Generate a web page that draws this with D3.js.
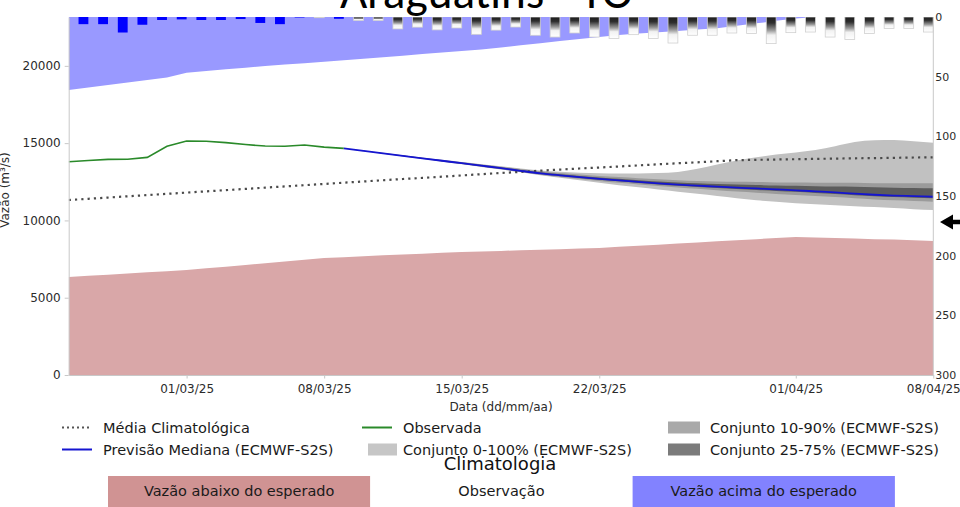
<!DOCTYPE html>
<html><head><meta charset="utf-8">
<script src="https://cdn.jsdelivr.net/npm/d3@7"></script>
<style>
body{margin:0;background:#fff}
svg{display:block}
text{font-family:"DejaVu Sans",sans-serif}
</style>
</head><body>
<svg id="c" width="960" height="507"></svg>
<script>
// ---------------- DATA ----------------
const titleText = "Araguatins - TO";
const startDate = "2025-02-23";
const endDate = "2025-04-08";
const xTickLabels = ["01/03/25", "08/03/25", "15/03/25", "22/03/25", "01/04/25", "08/04/25"];
const yTicks = [0, 5000, 10000, 15000, 20000];
const precipTicks = [0, 50, 100, 150, 200, 250, 300];

// daily climatology (23/02 .. 08/04)
const climLow = [6340,6415,6490,6565,6640,6715,6790,6900,7010,7120,7235,7345,7460,7570,7625,7680,7740,7795,7850,7905,7960,7995,8030,8070,8105,8140,8180,8215,8290,8360,8430,8500,8575,8645,8715,8790,8860,8930,8900,8870,8830,8790,8760,8720,8670];
const climHigh = [18435,18600,18760,18920,19080,19250,19560,19670,19780,19880,19990,20080,20170,20270,20360,20460,20560,20660,20760,20860,20960,21060,21190,21330,21460,21600,21730,21870,22000,22090,22180,22260,22350,22440,22600,22750,22910,23070,23160,23250,23330,23400,23460,23510,23550];
const climMean = [11320,11400,11480,11560,11640,11720,11800,11880,11960,12040,12120,12200,12280,12360,12440,12520,12600,12680,12750,12830,12910,12990,13070,13140,13220,13290,13360,13420,13490,13560,13630,13700,13760,13830,13900,13920,13940,13960,13980,14000,14020,14030,14050,14070,14080];

// observed flow (23/02 .. 09/03)
const observed = [13800,13880,13950,13960,14080,14800,15140,15120,15030,14910,14810,14800,14880,14740,14660];

// ECMWF-S2S forecast (09/03 .. 08/04)
const fcStartIndex = 14;
const fcMedian = [14660,14500,14340,14180,14020,13860,13700,13540,13380,13210,13050,12920,12800,12690,12590,12490,12400,12320,12250,12180,12120,12070,12010,11950,11880,11810,11730,11660,11610,11570,11530];
const fcMax = [14660,14520,14370,14220,14070,13920,13780,13640,13500,13360,13230,13150,13090,13050,13030,13040,13070,13140,13350,13620,13880,14080,14260,14400,14560,14800,15070,15180,15200,15130,15030];
const fcP90 = [14660,14510,14360,14210,14060,13910,13760,13620,13475,13320,13180,13070,12970,12880,12810,12730,12660,12600,12550,12520,12500,12490,12460,12450,12440,12430,12430,12410,12410,12410,12400];
const fcP75 = [14660,14505,14350,14195,14040,13890,13735,13580,13425,13260,13110,12990,12880,12780,12690,12600,12520,12455,12400,12350,12320,12290,12260,12240,12210,12190,12180,12140,12120,12100,12080];
const fcP25 = [14660,14495,14330,14165,14000,13835,13670,13508,13345,13172,13010,12875,12750,12635,12530,12425,12330,12245,12170,12095,12030,11975,11910,11850,11780,11710,11630,11560,11510,11470,11430];
const fcP10 = [14660,14490,14320,14155,13990,13820,13650,13480,13310,13125,12950,12810,12680,12555,12440,12330,12230,12135,12050,11955,11870,11795,11710,11650,11580,11510,11430,11355,11300,11255,11210];
const fcMin = [14660,14480,14310,14140,13970,13800,13630,13460,13290,13110,12920,12760,12600,12440,12280,12140,12000,11860,11720,11580,11440,11300,11200,11110,11040,10980,10920,10870,10800,10730,10670];

// precipitation (mm): observed from 23/02, forecast from 07/03
const precipObs = [6,6,13,6.5,2.5,2,2.5,2.5,1.7,5,6,0.4,0,1.5];
const precipFcStartIndex = 12;
const precipFc = [0.6,0,3,3,10,8.5,10.8,9.2,14.5,11,8.4,15.3,16.8,13.4,16.8,18.1,14.8,18.1,21.8,15.3,15.3,13.4,13.9,22.3,13.1,12.6,16.8,18.9,13.9,9.7,9.7,12.6];

const legendItems = [
  {label:"Média Climatológica", type:"dots", color:"#555", col:0, row:0},
  {label:"Previsão Mediana (ECMWF-S2S)", type:"line", color:"#1515d0", col:0, row:1},
  {label:"Observada", type:"line", color:"#2a8a2a", col:1, row:0},
  {label:"Conjunto 0-100% (ECMWF-S2S)", type:"box", color:"#c6c6c6", col:1, row:1},
  {label:"Conjunto 10-90% (ECMWF-S2S)", type:"box", color:"#a9a9a9", col:2, row:0},
  {label:"Conjunto 25-75% (ECMWF-S2S)", type:"box", color:"#7b7b7b", col:2, row:1}
];
const climTitle = "Climatologia";
const climBoxes = [
  {label:"Vazão abaixo do esperado", color:"#d09393"},
  {label:"Observação", color:"#ffffff"},
  {label:"Vazão acima do esperado", color:"#8282ff"}
];

// ---------------- CHART ----------------
const svg = d3.select("#c");
const L = 68.7, R = 933.3, T = 17, B = 375;
const parse = d3.utcParse("%Y-%m-%d");
const parseTick = d3.utcParse("%d/%m/%y");
const d0 = parse(startDate), d1 = parse(endDate);
const days = d3.utcDay.range(d0, d3.utcDay.offset(d1, 1));

const x = d3.scaleUtc().domain([d0, d1]).range([L, R]);
const y = d3.scaleLinear().domain([0, 23160]).range([B, T]);
const yP = d3.scaleLinear().domain([0, 300]).range([T, B]);

const defs = svg.append("defs");
defs.append("clipPath").attr("id","plot").append("rect")
  .attr("x",L).attr("y",T).attr("width",R-L).attr("height",B-T);
const grad = defs.append("linearGradient").attr("id","pg")
  .attr("x1",0).attr("y1",0).attr("x2",0).attr("y2",1);
[[0,"#1c1c1c"],[0.22,"#2e2e2e"],[0.5,"#9a9a9a"],[0.68,"#f2f2f2"],[1,"#ffffff"]]
  .forEach(([o,c]) => grad.append("stop").attr("offset",o).attr("stop-color",c));

const g = svg.append("g").attr("clip-path","url(#plot)");

// red (below expected)
g.append("path").datum(climLow)
  .attr("d", d3.area().x((d,i)=>x(days[i])).y0(y(0)).y1(d=>y(d)))
  .attr("fill","#d9a7a8");
// blue (above expected)
g.append("path").datum(climHigh)
  .attr("d", d3.area().x((d,i)=>x(days[i])).y0(d=>y(d)).y1(T - 5))
  .attr("fill","#9999ff");

// ensemble bands
function band(lo, hi, color){
  g.append("path").datum(lo.map((v,k)=>[v, hi[k]]))
    .attr("d", d3.area().x((d,k)=>x(days[fcStartIndex+k])).y0(d=>y(d[0])).y1(d=>y(d[1])).curve(d3.curveMonotoneX))
    .attr("fill", color);
}
band(fcMin, fcMax, "#c1c1c1");
band(fcP10, fcP90, "#9b9b9b");
band(fcP25, fcP75, "#5c5c5c");

// climatological mean
g.append("path").datum(climMean)
  .attr("d", d3.line().x((d,i)=>x(days[i])).y(d=>y(d)))
  .attr("fill","none").attr("stroke","#4a4a4a").attr("stroke-width",2.2)
  .attr("stroke-dasharray","2.2 4.1");

// observed
g.append("path").datum(observed)
  .attr("d", d3.line().x((d,i)=>x(days[i])).y(d=>y(d)))
  .attr("fill","none").attr("stroke","#2a8a2a").attr("stroke-width",1.6);

// median forecast
g.append("path").datum(fcMedian)
  .attr("d", d3.line().x((d,k)=>x(days[fcStartIndex+k])).y(d=>y(d)).curve(d3.curveMonotoneX))
  .attr("fill","none").attr("stroke","#1515d0").attr("stroke-width",1.8);

// precipitation bars
function barX(i){ return x(d3.utcHour.offset(days[i], 12)); }
function barW(i){ return x(d3.utcDay.offset(days[i], 1)) - barX(i); }
g.selectAll(".pf").data(precipFc).join("rect").attr("class","pf")
  .attr("x",(d,k)=>barX(precipFcStartIndex+k)).attr("width",(d,k)=>barW(precipFcStartIndex+k))
  .attr("y",yP(0)).attr("height",d=>yP(d)-yP(0))
  .attr("fill","url(#pg)").attr("stroke",d=>d>0?"#d0d0d0":"none").attr("stroke-width",0.8);
g.selectAll(".po").data(precipObs).join("rect").attr("class","po")
  .attr("x",(d,i)=>barX(i)).attr("width",(d,i)=>barW(i))
  .attr("y",yP(0)).attr("height",d=>yP(d)-yP(0))
  .attr("fill","#0000ff");

// axes
const axisColor = "#c8c8c8";
const yAx = svg.append("g").attr("transform",`translate(${L},0)`)
  .call(d3.axisLeft(y).tickValues(yTicks).tickSize(4).tickSizeOuter(0).tickPadding(4).tickFormat(d3.format("d")));
const xAx = svg.append("g").attr("transform",`translate(0,${B})`)
  .call(d3.axisBottom(x).tickValues(xTickLabels.map(parseTick)).tickSize(3.5).tickSizeOuter(0).tickPadding(5.5)
    .tickFormat((d,i)=>xTickLabels[i]));
[yAx, xAx].forEach(a=>{
  a.select(".domain").attr("stroke",axisColor);
  a.selectAll(".tick line").attr("stroke",axisColor);
  a.selectAll("text").attr("fill","#2b2b2b").style("font-size","12px").style("font-family","DejaVu Sans");
});
// right axis (precipitation)
svg.append("line").attr("x1",R).attr("x2",R).attr("y1",T).attr("y2",B).attr("stroke",axisColor);
svg.selectAll(".pt").data(precipTicks).join("text").attr("class","pt")
  .attr("x",R+2).attr("y",d=>yP(d)).attr("dy","0.35em")
  .attr("fill","#2b2b2b").style("font-size","11px").text(d=>d);

// axis titles
svg.append("text").attr("x",(L+R)/2).attr("y",410.5).attr("text-anchor","middle")
  .attr("fill","#2b2b2b").style("font-size","12px").text("Data (dd/mm/aa)");
svg.append("text").attr("transform","translate(9,190) rotate(-90)").attr("text-anchor","middle")
  .attr("fill","#2b2b2b").style("font-size","12px").text("Vazão (m³/s)");

// arrow
svg.append("path").attr("d","M940,222 L953,214.5 L953,219.8 L960,219.8 L960,224.2 L953,224.2 L953,229.5 Z").attr("fill","#000");

// title
const tt = svg.append("text").attr("x",486.5).attr("y",7.5).attr("text-anchor","middle")
  .style("font-family","Carlito, Lato, sans-serif").style("font-size","38px").attr("fill","#000").text(titleText);
const tw = tt.node().getComputedTextLength();
tt.style("font-size", (38*293/tw).toFixed(2)+"px");

// legend
const colX = [62, 362, 668];
const rowY = [427.5, 449.5];
legendItems.forEach(it=>{
  const gx = colX[it.col], gy = rowY[it.row];
  if(it.type==="dots"){
    svg.append("line").attr("x1",gx).attr("x2",gx+30).attr("y1",gy).attr("y2",gy)
      .attr("stroke",it.color).attr("stroke-width",2).attr("stroke-dasharray","2 3");
  } else if(it.type==="line"){
    svg.append("line").attr("x1",gx).attr("x2",gx+30).attr("y1",gy).attr("y2",gy)
      .attr("stroke",it.color).attr("stroke-width",2);
  } else {
    svg.append("rect").attr("x",gx+(it.col===1?6:0)).attr("y",gy-6).attr("width",it.col===1?29:32).attr("height",12)
      .attr("fill",it.color);
  }
  svg.append("text").attr("x",gx+(it.col===2?42:41)).attr("y",gy).attr("dy","0.36em")
    .attr("fill","#1a1a1a").style("font-size","14.5px").text(it.label);
});

// climatology legend
svg.append("text").attr("x",500).attr("y",470).attr("text-anchor","middle")
  .attr("fill","#111").style("font-size","18px").text(climTitle);
const bx0 = 108, bw = 262.3;
climBoxes.forEach((b,i)=>{
  svg.append("rect").attr("x",bx0+i*bw).attr("y",476).attr("width",bw).attr("height",31).attr("fill",b.color);
  svg.append("text").attr("x",bx0+i*bw+bw/2).attr("y",491).attr("dy","0.36em").attr("text-anchor","middle")
    .attr("fill","#1a1a1a").style("font-size","14.5px").text(b.label);
});
</script>
</body></html>
